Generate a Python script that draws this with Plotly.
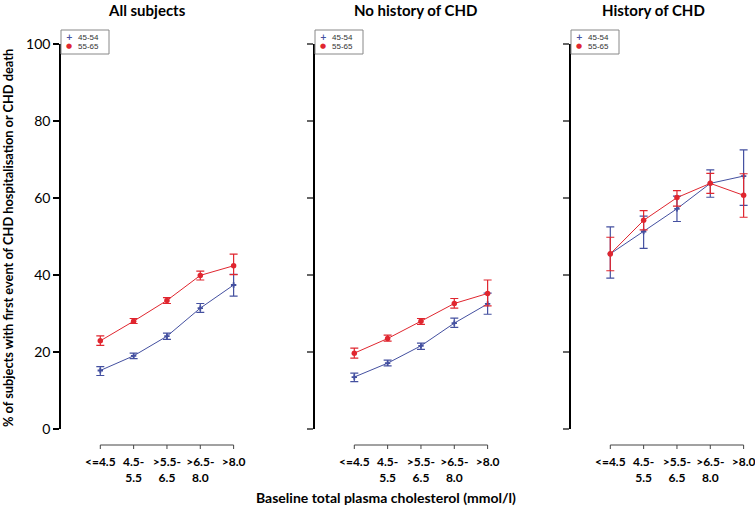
import plotly.graph_objects as go

categories = ["<=4.5", "4.5-<br>5.5", ">5.5-<br>6.5", ">6.5-<br>8.0", ">8.0"]
panel_titles = ["All subjects", "No history of CHD", "History of CHD"]
groups = ["45-54", "55-65"]

# Panel 1: All subjects
all_4554 = [15.2, 19.0, 24.1, 31.4, 37.4]
all_4554_hi = [16.2, 19.7, 24.9, 32.6, 40.2]
all_4554_lo = [13.9, 18.3, 23.3, 30.3, 34.5]
all_5565 = [22.9, 28.0, 33.4, 39.9, 42.4]
all_5565_hi = [24.2, 28.7, 34.1, 41.0, 45.4]
all_5565_lo = [21.7, 27.4, 32.6, 38.7, 40.1]

# Panel 2: No history of CHD
noh_4554 = [13.5, 17.1, 21.6, 27.5, 32.5]
noh_4554_hi = [14.5, 17.9, 22.3, 28.8, 35.3]
noh_4554_lo = [12.3, 16.4, 20.7, 26.4, 29.8]
noh_5565 = [19.7, 23.5, 28.0, 32.6, 35.2]
noh_5565_hi = [21.0, 24.4, 28.7, 33.9, 38.7]
noh_5565_lo = [18.4, 22.8, 27.2, 31.4, 32.0]

# Panel 3: History of CHD
his_4554 = [45.5, 51.3, 57.2, 63.8, 65.7]
his_4554_hi = [52.5, 55.3, 60.5, 67.3, 72.5]
his_4554_lo = [39.2, 46.9, 53.9, 60.2, 58.1]
his_5565 = [45.5, 54.2, 60.1, 63.8, 60.7]
his_5565_hi = [49.8, 56.7, 61.9, 66.4, 66.3]
his_5565_lo = [41.1, 51.7, 57.9, 61.2, 55.0]

yticks = [0, 20, 40, 60, 80, 100]

panels = [
    [(all_4554, all_4554_hi, all_4554_lo), (all_5565, all_5565_hi, all_5565_lo)],
    [(noh_4554, noh_4554_hi, noh_4554_lo), (noh_5565, noh_5565_hi, noh_5565_lo)],
    [(his_4554, his_4554_hi, his_4554_lo), (his_5565, his_5565_hi, his_5565_lo)],
]

W, H = 755, 507
BLUE = "#4450a0"
RED = "#e0262f"
colors = [BLUE, RED]
symbols = ["cross", "circle"]
msizes = [4.5, 5.5]
legend_glyphs = ["<b>+</b>", "\u25cf"]

fig = go.Figure()

left_px = [61, 315, 571]
panel_w = 180
y_bot_px, y_top_px = 429, 44
spacing = 33.33
offset = 39.3

def px_x(p):
    return p / W

def px_y(p):
    return (H - p) / H

bold_font = "Lato"

for i, series in enumerate(panels):
    ax = "" if i == 0 else str(i + 1)
    for j, (vals, hi, lo) in enumerate(series):
        fig.add_trace(go.Scatter(
            x=categories, y=vals,
            mode="lines+markers",
            name=groups[j],
            line=dict(color=colors[j], width=1),
            marker=dict(color=colors[j], symbol=symbols[j], size=msizes[j]),
            error_y=dict(type="data", symmetric=False,
                         array=[h - v for h, v in zip(hi, vals)],
                         arrayminus=[v - l for v, l in zip(vals, lo)],
                         color=colors[j], thickness=1.2, width=4),
            xaxis="x" + ax, yaxis="y" + ax,
            showlegend=False, cliponaxis=False,
        ))
    x0 = left_px[i]
    r0 = -offset / spacing
    r1 = r0 + panel_w / spacing
    fig.layout["xaxis" + ax] = dict(
        domain=[px_x(x0), px_x(x0 + panel_w)],
        anchor="y" + ax, type="category",
        categoryorder="array", categoryarray=categories,
        range=[r0, r1], showline=False, showgrid=False, zeroline=False,
        ticks="", ticklabelstandoff=24, automargin=False,
        tickfont=dict(family=bold_font, size=12, color="black", weight="bold"),
    )
    fig.layout["yaxis" + ax] = dict(
        domain=[px_y(y_bot_px), px_y(y_top_px)],
        anchor="x" + ax, range=[0, 100], tickvals=yticks,
        showline=True, linecolor="black", linewidth=1.5,
        ticks="outside", ticklen=6, tickwidth=1.5,
        tickcolor="black" if i == 0 else "#666",
        showticklabels=(i == 0), showgrid=False, zeroline=False,
        automargin=False,
        tickfont=dict(family=bold_font, size=14, color="black"),
    )
    # x axis line spanning first to last category, below the plot
    xr = "x" + ax
    fig.add_shape(type="line", xref=xr, yref="paper",
                  x0=0, x1=len(categories) - 1,
                  y0=px_y(445), y1=px_y(445),
                  line=dict(color="#444", width=1))
    for k in range(len(categories)):
        fig.add_shape(type="line", xref=xr, yref="paper",
                      x0=k, x1=k, y0=px_y(445), y1=px_y(449),
                      line=dict(color="#444", width=1))
    # legend box
    fig.add_shape(type="rect", xref="paper", yref="paper",
                  x0=px_x(x0), x1=px_x(x0 + 48), y0=px_y(54), y1=px_y(30),
                  fillcolor="white", line=dict(color="#888", width=1), layer="above")
    for j, g in enumerate(groups):
        yy = px_y(37 + 9 * j)
        fig.add_annotation(text=legend_glyphs[j], xref="paper", yref="paper",
                           x=px_x(x0 + 8), y=yy, showarrow=False,
                           xanchor="center", yanchor="middle",
                           font=dict(family="DejaVu Sans", size=7 if j else 8,
                                     color=colors[j]))
        fig.add_annotation(text=g, xref="paper", yref="paper",
                           x=px_x(x0 + 15), y=yy, showarrow=False,
                           xanchor="left", yanchor="middle",
                           font=dict(family="Liberation Sans", size=8, color="#333"))

title_x = [147, 415, 653]
for i, t in enumerate(panel_titles):
    fig.add_annotation(text=t, xref="paper", yref="paper",
                       x=px_x(title_x[i]), y=px_y(10), showarrow=False,
                       xanchor="center", yanchor="middle",
                       font=dict(family=bold_font, size=15, color="black", weight="bold"))

fig.add_annotation(text="Baseline total plasma cholesterol (mmol/l)",
                   xref="paper", yref="paper", x=px_x(386), y=px_y(497),
                   showarrow=False, xanchor="center", yanchor="middle",
                   font=dict(family=bold_font, size=14, color="black", weight="bold"))
fig.add_annotation(text="% of subjects with first event of CHD hospitalisation or CHD death",
                   xref="paper", yref="paper", x=px_x(8), y=px_y(238),
                   showarrow=False, textangle=-90, xanchor="center", yanchor="middle",
                   font=dict(family=bold_font, size=12.8, color="black", weight="bold"))

fig.update_layout(
    width=W, height=H, margin=dict(l=0, r=0, t=0, b=0, autoexpand=False),
    paper_bgcolor="white", plot_bgcolor="white", showlegend=False,
)

fig.write_html("out.html",
               config={"displayModeBar": False},
               post_script="document.body.style.margin='0';document.body.style.overflow='hidden';")
